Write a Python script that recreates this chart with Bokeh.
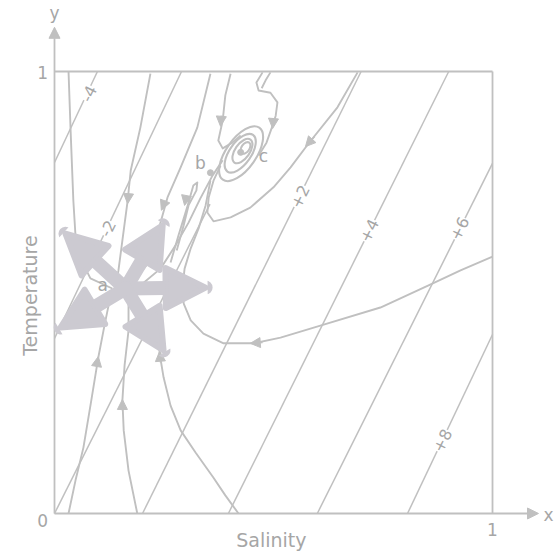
from bokeh.plotting import figure
from bokeh.models import Arrow, NormalHead, ColumnDataSource, Range1d
from bokeh.embed import file_html
from bokeh.resources import INLINE
from bokeh.core.properties import value

# ---------------- data (unit square: salinity x, temperature y) ----------------
# isopycnals (straight lines) start / end points and labels
iso_names = ["-4", "-2", "0", "+2", "+4", "+6", "+8"]
iso_x0 = [0.0, 0.0, 0.0, 0.201, 0.397, 0.600, 0.806]
iso_y0 = [0.794, 0.396, 0.0, 0.0, 0.0, 0.0, 0.0]
iso_x1 = [0.098, 0.29, 0.355, 0.70, 0.90, 1.0, 1.0]
iso_y1 = [1.0, 1.0, 0.70, 1.0, 1.0, 0.792, 0.405]
iso_lab = ["-4", "-2", "+2", "+4", "+6", "+8"]
iso_lab_x = [0.078, 0.121, 0.560, 0.718, 0.924, 0.885]
iso_lab_y = [0.950, 0.645, 0.717, 0.640, 0.645, 0.165]

# trajectories
t1_x = [0.032, 0.037, 0.043, 0.050, 0.082, 0.132]
t1_y = [1.0, 0.860, 0.708, 0.595, 0.532, 0.509]
t2_x = [0.219, 0.196, 0.174, 0.167, 0.155, 0.146, 0.139]
t2_y = [0.995, 0.873, 0.776, 0.708, 0.618, 0.550, 0.509]
t3_x = [0.356, 0.326, 0.288, 0.258, 0.237, 0.215, 0.174]
t3_y = [0.995, 0.873, 0.783, 0.715, 0.640, 0.568, 0.516]
t4_x = [0.402, 0.390, 0.384, 0.374, 0.384, 0.406, 0.425]
t4_y = [0.995, 0.946, 0.889, 0.844, 0.826, 0.839, 0.855]
t4b_x = [0.475, 0.461, 0.466, 0.493, 0.509, 0.505, 0.498, 0.484, 0.466]
t4b_y = [0.998, 0.975, 0.957, 0.952, 0.930, 0.900, 0.878, 0.839, 0.810]
t4c_x = [0.493, 0.482, 0.473]
t4c_y = [0.998, 0.980, 0.962]
t5_x = [1.0, 0.927, 0.854, 0.744, 0.607, 0.516, 0.454, 0.386, 0.340, 0.311,
        0.295, 0.292, 0.297, 0.311, 0.329, 0.345, 0.356]
t5_y = [0.581, 0.550, 0.516, 0.466, 0.425, 0.398, 0.385, 0.385, 0.407, 0.437,
        0.475, 0.511, 0.554, 0.600, 0.645, 0.697, 0.753]
t6_x = [0.692, 0.646, 0.580, 0.539, 0.500, 0.447, 0.402, 0.363, 0.349, 0.352, 0.363, 0.379]
t6_y = [0.998, 0.919, 0.837, 0.783, 0.738, 0.692, 0.670, 0.661, 0.681, 0.715, 0.753, 0.787]
b1_x = [0.384, 0.361, 0.333, 0.306, 0.276, 0.242, 0.196]
b1_y = [0.799, 0.765, 0.713, 0.658, 0.606, 0.554, 0.516]
l1_x = [0.265, 0.283, 0.304, 0.317, 0.326, 0.324, 0.306, 0.295, 0.279]
l1_y = [0.568, 0.629, 0.697, 0.742, 0.749, 0.731, 0.697, 0.652, 0.595]
t7_x = [0.032, 0.048, 0.066, 0.084, 0.100, 0.114, 0.128]
t7_y = [0.0, 0.075, 0.149, 0.256, 0.353, 0.425, 0.493]
t8_x = [0.189, 0.169, 0.158, 0.155, 0.160, 0.169, 0.169]
t8_y = [0.0, 0.097, 0.188, 0.256, 0.335, 0.414, 0.482]
t9_x = [0.420, 0.390, 0.363, 0.322, 0.288, 0.265, 0.249, 0.240, 0.237, 0.242]
t9_y = [0.0, 0.041, 0.081, 0.138, 0.188, 0.244, 0.308, 0.362, 0.414, 0.459]

# spiral around c (nested ellipses)
ell_x = [0.436, 0.429, 0.424, 0.426]
ell_y = [0.827, 0.820, 0.815, 0.814]
ell_w = [0.030, 0.064, 0.102, 0.145]
ell_h = [0.018, 0.033, 0.049, 0.068]
ell_angle = 0.96

# direction arrowheads on trajectories (tail -> tip)
arr_x0 = [0.169, 0.253, 0.381, 0.500, 0.594, 0.475, 0.096, 0.155, 0.242, 0.301]
arr_y0 = [0.724, 0.708, 0.900, 0.894, 0.853, 0.387, 0.333, 0.233, 0.342, 0.717]
arr_x1 = [0.167, 0.244, 0.379, 0.498, 0.573, 0.447, 0.100, 0.155, 0.240, 0.297]
arr_y1 = [0.701, 0.686, 0.876, 0.871, 0.830, 0.385, 0.355, 0.258, 0.367, 0.697]

# critical points
pt_names = ["a", "b", "c"]
pt_x = [0.139, 0.356, 0.425]
pt_y = [0.509, 0.771, 0.817]
pt_lab_x = [0.110, 0.333, 0.477]
pt_lab_y = [0.516, 0.794, 0.808]

# overlay "move" star arrows from a common centre
star_cx = 0.162
star_cy = 0.509
star_tx = [0.025, 0.247, 0.345, 0.249, 0.014]
star_ty = [0.633, 0.652, 0.511, 0.369, 0.421]

# axes and labels
tick_labels = ["0", "1", "1"]
tick_x = [-0.027, -0.027, 1.0]
tick_y = [-0.016, 0.998, -0.036]
axis_names = ["x", "y"]
axis_name_x = [1.128, 0.0]
axis_name_y = [-0.004, 1.133]
x_title = "Salinity"
y_title = "Temperature"

# ---------------- drawing ----------------
LINE = "#c0c0c0"
TEXT = "#a6a6a6"
STAR = "#cccad1"
FONT = "DejaVu Sans"

p = figure(width=556, height=554, x_range=Range1d(-0.1233, 1.1461),
           y_range=Range1d(-0.0928, 1.1606), output_backend="svg",
           toolbar_location=None, min_border=0)
p.axis.visible = False
p.grid.visible = False
p.outline_line_color = None
p.background_fill_color = "white"

# frame: top and right edges
p.multi_line(xs=[[0, 1], [1, 1]], ys=[[1, 1], [0, 1]], line_color=LINE, line_width=1.8)

# isopycnals
p.segment(x0=iso_x0, y0=iso_y0, x1=iso_x1, y1=iso_y1, line_color=LINE, line_width=1.5)

# trajectories
traj_xs = [t1_x, t2_x, t3_x, t4_x, t4b_x, t4c_x, t5_x, t6_x, b1_x, l1_x, t7_x, t8_x, t9_x]
traj_ys = [t1_y, t2_y, t3_y, t4_y, t4b_y, t4c_y, t5_y, t6_y, b1_y, l1_y, t7_y, t8_y, t9_y]
p.multi_line(xs=traj_xs, ys=traj_ys, line_color=LINE, line_width=1.9, line_join="round")

p.ellipse(x=ell_x, y=ell_y, width=ell_w, height=ell_h, angle=ell_angle,
          fill_color=None, line_color=LINE, line_width=2.1)

p.scatter(x=pt_x[1:], y=pt_y[1:], size=6, color=LINE)

# isopycnal labels
p.text(x=iso_lab_x, y=iso_lab_y, text=iso_lab, angle=1.107, text_align="center",
       text_baseline="middle", text_font=value(FONT), text_font_size="16px",
       text_color=TEXT, background_fill_color="white")

# point labels
p.text(x=pt_lab_x, y=pt_lab_y, text=pt_names, text_align="center", text_baseline="middle",
       text_font=value(FONT), text_font_size="17px", text_color=TEXT)

# axes arrows
axis_src = ColumnDataSource(dict(x0=[0, 0], y0=[0, 0], x1=[1.105, 0], y1=[0, 1.10]))
p.add_layout(Arrow(end=NormalHead(size=11, fill_color=LINE, line_color=LINE),
                   source=axis_src, x_start="x0", y_start="y0", x_end="x1", y_end="y1",
                   line_color=LINE, line_width=1.8))

# tick labels and axis names
p.text(x=tick_x, y=tick_y, text=tick_labels, text_align="center", text_baseline="middle",
       text_font=value(FONT), text_font_size="17px", text_color=TEXT)
p.text(x=axis_name_x, y=axis_name_y, text=axis_names, text_align="center",
       text_baseline="middle", text_font=value(FONT), text_font_size="17px", text_color=TEXT)
p.text(x=[0.495], y=[-0.061], text=[x_title], text_align="center", text_baseline="middle",
       text_font=value(FONT), text_font_size="19px", text_color=TEXT)
p.text(x=[-0.055], y=[0.493], text=[y_title], angle=1.5708, text_align="center",
       text_baseline="middle", text_font=value(FONT), text_font_size="19px", text_color=TEXT)

# trajectory direction heads
arr_src = ColumnDataSource(dict(x0=arr_x0, y0=arr_y0, x1=arr_x1, y1=arr_y1))
p.add_layout(Arrow(end=NormalHead(size=10, fill_color=LINE, line_color=LINE),
                   source=arr_src, x_start="x0", y_start="y0", x_end="x1", y_end="y1",
                   line_color=LINE, line_width=1.5))

# star overlay
star_src = ColumnDataSource(dict(x0=[star_cx] * len(star_tx), y0=[star_cy] * len(star_ty),
                                 x1=star_tx, y1=star_ty))
p.add_layout(Arrow(end=NormalHead(size=40, fill_color=STAR, line_color=STAR, line_width=6,
                                  line_join="round"),
                   source=star_src, x_start="x0", y_start="y0", x_end="x1", y_end="y1",
                   line_color=STAR, line_width=14, line_cap="round"))

open("out.html", "w").write(file_html(p, INLINE))
